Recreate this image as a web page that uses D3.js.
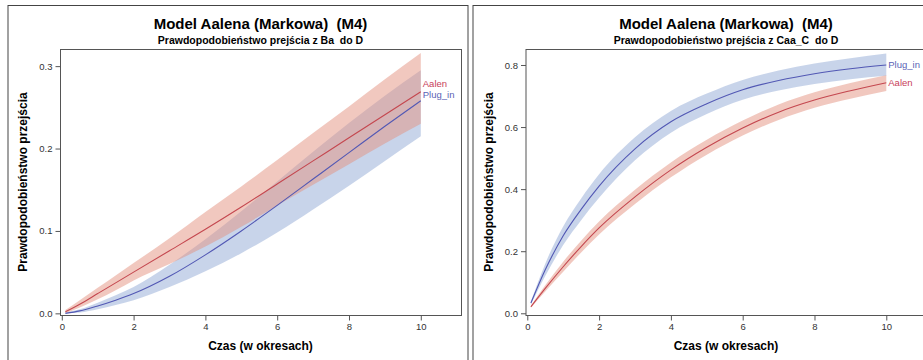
<!DOCTYPE html>
<html>
<head>
<meta charset="utf-8">
<script src="https://cdn.jsdelivr.net/npm/d3@7"></script>
<style>
  body { margin: 0; background: #fff; }
  text { font-family: "Liberation Sans", Arial, sans-serif; }
</style>
</head>
<body>
<svg id="chart" width="923" height="360"></svg>
<script>
// czasy (w okresach)
const times = [0.1, 0.5, 1, 1.5, 2, 3, 4, 5, 6, 7, 8, 9, 10]

// przejscie Ba -> D
const aalenBa   = [0.002, 0.011, 0.024, 0.037, 0.050, 0.076, 0.102, 0.129, 0.157, 0.185, 0.213, 0.241, 0.269]
const aalenBaLo = [0.000, 0.007, 0.017, 0.028, 0.040, 0.060, 0.081, 0.105, 0.131, 0.156, 0.181, 0.206, 0.230]
const aalenBaHi = [0.004, 0.016, 0.031, 0.046, 0.061, 0.091, 0.123, 0.154, 0.186, 0.219, 0.251, 0.284, 0.316]
const plugBa    = [0.000, 0.003, 0.009, 0.016, 0.024, 0.045, 0.071, 0.100, 0.131, 0.163, 0.195, 0.227, 0.258]
const plugBaLo  = [0.000, 0.001, 0.005, 0.010, 0.016, 0.032, 0.051, 0.073, 0.098, 0.126, 0.155, 0.185, 0.215]
const plugBaHi  = [0.001, 0.005, 0.013, 0.022, 0.032, 0.059, 0.090, 0.124, 0.160, 0.196, 0.231, 0.264, 0.295]

// przejscie Caa_C -> D
const aalenCaa   = [0.021, 0.080, 0.150, 0.215, 0.275, 0.375, 0.462, 0.535, 0.597, 0.648, 0.687, 0.717, 0.743]
const aalenCaaLo = [0.018, 0.070, 0.134, 0.196, 0.254, 0.352, 0.438, 0.511, 0.573, 0.623, 0.662, 0.691, 0.716]
const aalenCaaHi = [0.024, 0.090, 0.166, 0.234, 0.296, 0.398, 0.486, 0.559, 0.621, 0.673, 0.712, 0.742, 0.767]
const plugCaa    = [0.033, 0.140, 0.250, 0.335, 0.410, 0.530, 0.617, 0.675, 0.720, 0.750, 0.772, 0.788, 0.800]
const plugCaaLo  = [0.028, 0.120, 0.220, 0.300, 0.372, 0.493, 0.582, 0.642, 0.688, 0.718, 0.739, 0.754, 0.765]
const plugCaaHi  = [0.038, 0.160, 0.280, 0.370, 0.448, 0.567, 0.652, 0.708, 0.752, 0.782, 0.805, 0.822, 0.837]

const xTicks = [0, 2, 4, 6, 8, 10]
const xDomain = [-0.05, 11.12]
const yTicksBa = [0, 0.1, 0.2, 0.3]
const yDomainBa = [-0.002, 0.3208]
const yTicksCaa = [0, 0.2, 0.4, 0.6, 0.8]
const yDomainCaa = [-0.0055, 0.8515]

const seriesNames = ['Aalen', 'Plug_in']

const mainTitle = 'Model Aalena (Markowa)  (M4)'
const xTitle = 'Czas (w okresach)'
const yTitle = 'Prawdopodobieństwo przejścia'

const colors = {
  Aalen:   { line: '#c4474f', band: '#e3917f', label: '#c8405a' },
  Plug_in: { line: '#5258b4', band: '#91a9d6', label: '#5a62b5' }
}

const svg = d3.select('#chart')

function drawPanel(cfg) {
  const g = svg.append('g')

  // ramka panelu
  g.append('rect')
    .attr('x', cfg.frameX + 0.5).attr('y', 5.5)
    .attr('width', cfg.frameW).attr('height', 362)
    .attr('fill', 'none').attr('stroke', '#444').attr('stroke-width', 1)

  const left = cfg.plotX, right = cfg.plotX + 401, top = 49, bottom = 315
  const cx = (left + right) / 2

  const x = d3.scaleLinear().domain(xDomain).range([left, right])
  const y = d3.scaleLinear().domain(cfg.yDomain).range([bottom, top])

  g.append('text')
    .attr('x', cx).attr('y', 28.5)
    .attr('text-anchor', 'middle')
    .style('white-space', 'pre')
    .attr('font-size', 15).attr('font-weight', 'bold').attr('fill', '#000')
    .text(mainTitle)

  g.append('text')
    .attr('x', cx).attr('y', 44)
    .attr('text-anchor', 'middle')
    .style('white-space', 'pre')
    .attr('font-size', 10.5).attr('font-weight', 'bold').attr('fill', '#000')
    .text(cfg.subtitle)

  const clipId = 'clip' + cfg.plotX
  g.append('clipPath').attr('id', clipId)
    .append('rect').attr('x', left).attr('y', top).attr('width', right - left).attr('height', bottom - top)

  const plot = g.append('g').attr('clip-path', `url(#${clipId})`)

  const area = d3.area()
    .x(d => x(d.t)).y0(d => y(d.lo)).y1(d => y(d.hi))
    .curve(d3.curveMonotoneX)
  const line = d3.line()
    .x(d => x(d.t)).y(d => y(d.v))
    .curve(d3.curveMonotoneX)

  // pasma: najpierw Plug_in, potem Aalen
  const order = ['Plug_in', 'Aalen']
  order.forEach(name => {
    const s = cfg.series[name]
    const rows = times.map((t, i) => ({ t: t, lo: s.lo[i], hi: s.hi[i] }))
    plot.append('path')
      .datum(rows)
      .attr('d', area)
      .attr('fill', colors[name].band)
      .attr('fill-opacity', 0.5)
  })
  order.forEach(name => {
    const s = cfg.series[name]
    const rows = times.map((t, i) => ({ t: t, v: s.v[i] }))
    plot.append('path')
      .datum(rows)
      .attr('d', line)
      .attr('fill', 'none')
      .attr('stroke', colors[name].line)
      .attr('stroke-width', 1.1)
  })

  // etykiety krzywych
  const ends = seriesNames.map(name => ({
    name: name,
    y: y(cfg.series[name].v[times.length - 1])
  })).sort((a, b) => a.y - b.y)
  if (ends[1].y - ends[0].y < 11) {
    ends[0].y = ends[0].y - 8
    ends[1].y = ends[0].y + 10.5
  }
  g.selectAll('text.curveLabel')
    .data(ends)
    .enter()
    .append('text')
    .classed('curveLabel', true)
    .attr('x', x(times[times.length - 1]) + 2)
    .attr('y', d => d.y)
    .attr('dy', '0.35em')
    .attr('font-size', 9.5)
    .attr('fill', d => colors[d.name].label)
    .text(d => d.name)

  // ramka wykresu
  g.append('rect')
    .attr('x', left + 0.5).attr('y', top + 0.5)
    .attr('width', right - left).attr('height', bottom - top)
    .attr('fill', 'none').attr('stroke', '#555').attr('stroke-width', 1)

  const xAxis = g.append('g')
    .attr('transform', `translate(0,${bottom + 0.5})`)
    .call(d3.axisBottom(x).tickValues(xTicks).tickFormat(d3.format('d')).tickSize(5).tickSizeOuter(0).tickPadding(3))
  const yAxis = g.append('g')
    .attr('transform', `translate(${left + 0.5},0)`)
    .call(d3.axisLeft(y).tickValues(cfg.yTicks).tickFormat(d3.format('.1f')).tickSize(5).tickSizeOuter(0).tickPadding(3))

  ;[xAxis, yAxis].forEach(ax => {
    ax.select('.domain').remove()
    ax.selectAll('line').attr('stroke', '#555')
    ax.selectAll('text')
      .attr('font-size', 9.5)
      .attr('fill', '#333')
      .attr('font-family', '"Liberation Sans", Arial, sans-serif')
  })

  g.append('text')
    .attr('x', cx).attr('y', 350)
    .attr('text-anchor', 'middle')
    .attr('font-size', 12).attr('font-weight', 'bold').attr('fill', '#000')
    .text(xTitle)

  g.append('text')
    .attr('transform', `translate(${left - 33},${(top + bottom) / 2}) rotate(-90)`)
    .attr('text-anchor', 'middle')
    .attr('font-size', 12).attr('font-weight', 'bold').attr('fill', '#000')
    .text(yTitle)
}

drawPanel({
  frameX: 7.5, frameW: 460,
  plotX: 60,
  subtitle: 'Prawdopodobieństwo prejścia z Ba  do D',
  yDomain: yDomainBa, yTicks: yTicksBa,
  series: {
    Aalen:   { v: aalenBa, lo: aalenBaLo, hi: aalenBaHi },
    Plug_in: { v: plugBa, lo: plugBaLo, hi: plugBaHi }
  }
})

drawPanel({
  frameX: 472.5, frameW: 460,
  plotX: 525.5,
  subtitle: 'Prawdopodobieństwo prejścia z Caa_C  do D',
  yDomain: yDomainCaa, yTicks: yTicksCaa,
  series: {
    Aalen:   { v: aalenCaa, lo: aalenCaaLo, hi: aalenCaaHi },
    Plug_in: { v: plugCaa, lo: plugCaaLo, hi: plugCaaHi }
  }
})
</script>
</body>
</html>
